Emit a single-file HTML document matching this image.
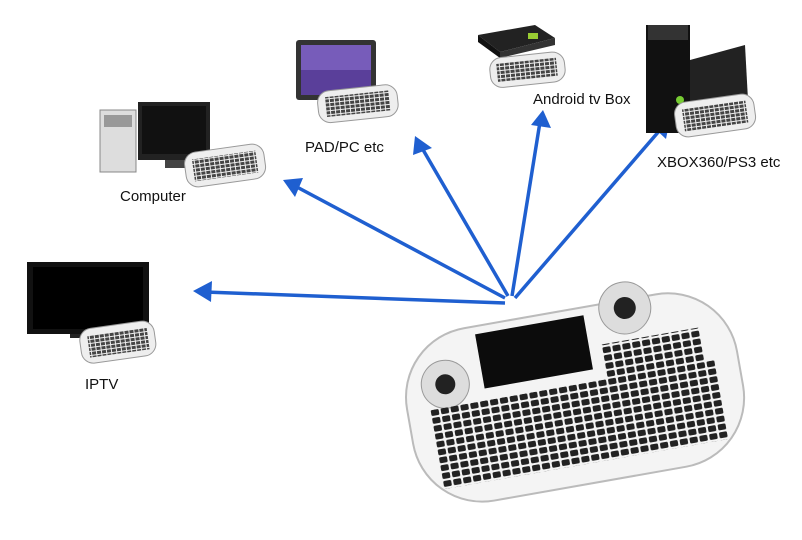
<!DOCTYPE html>
<html><head><meta charset="utf-8"><style>
html,body{margin:0;padding:0;background:#fff;}
svg{display:block}
text{font-family:"Liberation Sans",sans-serif;font-size:15px;fill:#111}
</style></head><body>
<svg width="802" height="540" viewBox="0 0 802 540" xmlns="http://www.w3.org/2000/svg">
<defs>
<marker id="ah" markerWidth="8" markerHeight="8" refX="4" refY="4" orient="auto" markerUnits="userSpaceOnUse" viewBox="0 0 8 8">
<path d="M0,0 L8,4 L0,8 z" fill="#1f5fd0"/>
</marker>
<pattern id="keys" width="10" height="8" patternUnits="userSpaceOnUse">
<rect x="1" y="1" width="8" height="6" rx="1.5" fill="#222"/>
</pattern>
<pattern id="skeys" width="5" height="4" patternUnits="userSpaceOnUse">
<rect x="0.5" y="0.5" width="4" height="3" fill="#444"/>
</pattern>
</defs>
<!-- arrows -->
<g stroke="#1f5fd0" stroke-width="3.5" fill="none">
<line x1="505" y1="303" x2="205" y2="292"/>
<line x1="505" y1="298" x2="295" y2="186"/>
<line x1="508" y1="296" x2="422" y2="148"/>
<line x1="512" y1="296" x2="540" y2="122"/>
<line x1="515" y1="298" x2="660" y2="130"/>
</g>
<g fill="#1f5fd0">
<polygon points="193,291 212,281 211,302"/>
<polygon points="283,180 303,178 295,197"/>
<polygon points="415,136 432,148 413,155"/>
<polygon points="543,110 551,128 531,125"/>
<polygon points="670,119 666,139 652,126"/>
</g>
<!-- IPTV -->
<rect x="27" y="262" width="122" height="72" fill="#111"/>
<rect x="33" y="267" width="110" height="62" fill="#000"/>
<rect x="70" y="334" width="40" height="4" fill="#222"/>
<g transform="rotate(-8 115 340)"><rect x="80" y="325" width="75" height="35" rx="12" fill="#eee" stroke="#999"/><rect x="88" y="332" width="60" height="22" fill="url(#skeys)"/></g>
<text x="85" y="389">IPTV</text>
<!-- Computer -->
<rect x="100" y="110" width="36" height="62" fill="#ddd" stroke="#888"/>
<rect x="104" y="115" width="28" height="12" fill="#999"/>
<rect x="138" y="102" width="72" height="58" fill="#222"/>
<rect x="142" y="106" width="64" height="48" fill="#111"/>
<rect x="165" y="160" width="20" height="8" fill="#444"/>
<g transform="rotate(-8 225 165)"><rect x="185" y="148" width="80" height="35" rx="12" fill="#eee" stroke="#999"/><rect x="193" y="155" width="64" height="22" fill="url(#skeys)"/></g>
<text x="120" y="201">Computer</text>
<!-- PAD -->
<rect x="296" y="40" width="80" height="60" rx="3" fill="#333"/>
<rect x="301" y="45" width="70" height="50" fill="#5a3f9a"/>
<rect x="301" y="45" width="70" height="25" fill="#8a6fd0" opacity="0.6"/>
<g transform="rotate(-6 355 105)"><rect x="318" y="88" width="80" height="32" rx="12" fill="#eee" stroke="#999"/><rect x="326" y="94" width="64" height="20" fill="url(#skeys)"/></g>
<text x="305" y="152">PAD/PC etc</text>
<!-- Android box -->
<polygon points="478,35 535,25 555,38 500,52" fill="#222"/>
<polygon points="478,35 500,52 500,58 478,42" fill="#111"/>
<polygon points="500,52 555,38 555,45 500,58" fill="#333"/>
<rect x="528" y="33" width="10" height="6" fill="#9c3"/>
<g transform="rotate(-6 525 70)"><rect x="490" y="55" width="75" height="30" rx="12" fill="#eee" stroke="#999"/><rect x="497" y="61" width="60" height="18" fill="url(#skeys)"/></g>
<text x="533" y="104">Android tv Box</text>
<!-- XBOX/PS3 -->
<polygon points="690,60 745,45 748,100 690,115" fill="#222"/>
<rect x="646" y="25" width="44" height="108" fill="#111"/>
<rect x="648" y="25" width="40" height="15" fill="#333"/>
<circle cx="680" cy="100" r="4" fill="#7c3"/>
<g transform="rotate(-8 715 115)"><rect x="675" y="98" width="80" height="35" rx="12" fill="#eee" stroke="#999"/><rect x="683" y="105" width="64" height="22" fill="url(#skeys)"/></g>
<text x="657" y="167">XBOX360/PS3 etc</text>
<!-- Big keyboard -->
<g transform="rotate(-10 575 400)">
<rect x="408" y="310" width="335" height="175" rx="70" fill="#f4f4f4" stroke="#bbb" stroke-width="2"/>
<rect x="488" y="318" width="110" height="55" fill="#0c0c0c"/>
<circle cx="450" cy="362" r="24" fill="#ddd" stroke="#999"/>
<circle cx="450" cy="362" r="10" fill="#222"/>
<circle cx="640" cy="318" r="26" fill="#ddd" stroke="#999"/>
<circle cx="640" cy="318" r="11" fill="#222"/>
<rect x="430" y="385" width="290" height="80" fill="url(#keys)"/>
<rect x="610" y="350" width="100" height="35" fill="url(#keys)"/>
</g>
</svg>
</body></html>
